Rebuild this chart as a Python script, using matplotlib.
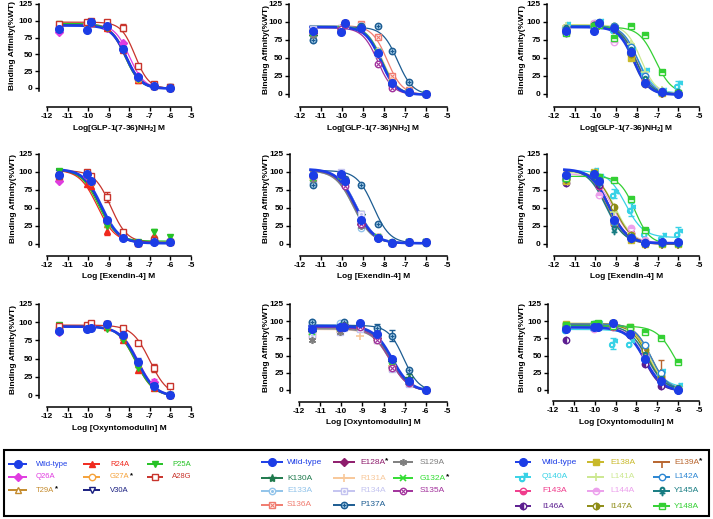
import numpy as np
import matplotlib
matplotlib.use('Agg')
import matplotlib.pyplot as plt
from matplotlib.patches import Rectangle

plt.rcParams['font.family'] = ['Liberation Sans', 'DejaVu Sans']
plt.rcParams['mathtext.fontset'] = 'custom'
plt.rcParams['mathtext.rm'] = 'Liberation Sans'
plt.rcParams['mathtext.bf'] = 'Liberation Sans:bold'
plt.rcParams['axes.unicode_minus'] = False

W, H = 713, 519

# ---------------- data ----------------
X_LOG = [-11.4, -10.05, -9.85, -9.1, -8.3, -7.6, -6.8, -6.0]
X_TICKS = [-12, -11, -10, -9, -8, -7, -6, -5]
Y_TICKS = [0, 25, 50, 75, 100, 125]
Y_LABEL = 'Binding Affinity(%WT)'
X_LABELS = [r'Log[GLP-1(7-36)NH$_\mathbf{2}$] M', 'Log [Exendin-4] M', 'Log [Oxyntomodulin] M']

PEP = ['Wild-type', 'Q26A', 'T29A*', 'R24A', 'G27A*', 'V30A', 'P25A', 'A28G']
ECLN = ['Wild-type', 'K130A', 'E133A', 'S136A', 'E128A*', 'R131A', 'R134A', 'P137A',
        'S129A', 'G132A*', 'S135A']
ECLC = ['Wild-type', 'Q140A', 'F143A', 'I146A', 'E138A', 'L141A', 'L144A', 'I147A',
        'E139A*', 'L142A', 'Y145A', 'Y148A']

# measured binding (%WT) at X_LOG; fit = (logIC50, top, bottom, hill); err = {series: {point index: SEM}}
GLP_PEP_Y = {
    'Wild-type': [88, 87, 98, 92, 58, 16, 3, 0],
    'Q26A': [83, 95, 97, 90, 67, 18, 3, 0],
    'T29A*': [90, 96, 97, 91, 60, 15, 3, 1],
    'R24A': [92, 96, 97, 90, 57, 12, 3, 0],
    'G27A*': [90, 95, 98, 92, 58, 14, 3, 2],
    'V30A': [89, 95, 97, 92, 58, 15, 3, 1],
    'P25A': [95, 96, 97, 90, 56, 14, 3, 0],
    'A28G': [95, 98, 99, 98, 90, 33, 6, 2],
}
GLP_PEP_FIT = {
    'Wild-type': (-8.15, 93, -1, 1.2), 'Q26A': (-8.0, 95, -1, 1.2),
    'T29A*': (-8.15, 95, -1, 1.2), 'R24A': (-8.2, 94, -1, 1.2),
    'G27A*': (-8.15, 95, 0, 1.2), 'V30A': (-8.15, 94, 0, 1.2),
    'P25A': (-8.22, 96, -1, 1.2), 'A28G': (-7.72, 98, -1, 1.3),
}
GLP_PEP_ERR = {'A28G': {4: 5}, 'R24A': {5: 5}}
GLP_ECLN_Y = {
    'Wild-type': [88, 86, 99, 92, 57, 15, 3, 0],
    'K130A': [80, 90, 97, 93, 55, 14, 3, 0],
    'E133A': [75, 88, 96, 92, 60, 15, 3, 0],
    'S136A': [87, 92, 98, 97, 79, 25, 5, 0],
    'E128A*': [85, 92, 97, 92, 55, 12, 3, 0],
    'R131A': [85, 88, 95, 90, 60, 18, 4, 0],
    'R134A': [90, 92, 96, 94, 55, 14, 3, 0],
    'P137A': [75, 88, 97, 95, 95, 60, 16, 0],
    'S129A': [82, 90, 96, 92, 55, 14, 3, 0],
    'G132A*': [85, 90, 96, 92, 58, 15, 3, 0],
    'S135A': [88, 90, 96, 90, 42, 8, 3, 0],
}
GLP_ECLN_FIT = {
    'Wild-type': (-8.15, 93, -1, 1.2), 'K130A': (-8.15, 93, -1, 1.2),
    'E133A': (-8.1, 94, -1, 1.2), 'S136A': (-7.85, 95, -1, 1.2),
    'E128A*': (-8.15, 93, -1, 1.2), 'R131A': (-8.05, 92, -1, 1.2),
    'R134A': (-8.1, 95, -1, 1.2), 'P137A': (-7.35, 93, -1, 1.2),
    'S129A': (-8.1, 94, -1, 1.2), 'G132A*': (-8.1, 94, -1, 1.2),
    'S135A': (-8.3, 92, -1, 1.2),
}
GLP_ECLN_ERR = {'R131A': {1: 6}}
GLP_ECLC_Y = {
    'Wild-type': [88, 87, 98, 92, 58, 15, 3, 0],
    'Q140A': [95, 97, 98, 90, 60, 30, 3, 12],
    'F143A': [90, 97, 97, 92, 58, 20, 3, 2],
    'I146A': [85, 95, 98, 95, 55, 14, 2, 1],
    'E138A': [92, 97, 97, 93, 50, 15, 2, 1],
    'L141A': [95, 96, 97, 94, 70, 30, 5, 2],
    'L144A': [92, 98, 98, 72, 60, 25, 4, 2],
    'I147A': [90, 96, 97, 93, 55, 15, 3, 1],
    'E139A*': [93, 96, 97, 92, 60, 18, 3, 1],
    'L142A': [90, 95, 97, 95, 65, 25, 3, 1],
    'Y145A': [90, 95, 98, 92, 60, 20, 3, 1],
    'Y148A': [85, 95, 96, 78, 95, 82, 30, 2],
}
GLP_ECLC_FIT = {
    'Wild-type': (-8.15, 93, -1, 1.2), 'Q140A': (-7.95, 95, 1, 1.1),
    'F143A': (-8.05, 95, 0, 1.2), 'I146A': (-8.15, 95, -1, 1.2),
    'E138A': (-8.2, 96, -1, 1.2), 'L141A': (-7.8, 96, 0, 1.2),
    'L144A': (-8.0, 95, 0, 1.1), 'I147A': (-8.15, 95, -1, 1.2),
    'E139A*': (-8.05, 95, 0, 1.2), 'L142A': (-7.95, 95, 0, 1.2),
    'Y145A': (-8.05, 94, 0, 1.2), 'Y148A': (-7.1, 93, 0, 1.1),
}
GLP_ECLC_ERR = {'Q140A': {7: 6}}
EX_PEP_Y = {
    'Wild-type': [96, 97, 88, 34, 9, 1, 3, 3],
    'Q26A': [87, 95, 85, 30, 10, 2, 3, 3],
    'T29A*': [95, 97, 86, 28, 12, 2, 5, 5],
    'R24A': [97, 83, 80, 18, 12, 2, 12, 5],
    'G27A*': [96, 97, 86, 30, 12, 2, 5, 4],
    'V30A': [96, 97, 87, 32, 10, 2, 4, 3],
    'P25A': [102, 95, 86, 25, 14, 3, 16, 10],
    'A28G': [95, 100, 95, 65, 17, 2, 5, 3],
}
EX_PEP_FIT = {
    'Wild-type': (-9.35, 104, 1, 1.0), 'Q26A': (-9.4, 103, 1, 1.0),
    'T29A*': (-9.4, 103, 2, 1.0), 'R24A': (-9.55, 103, 2, 1.0),
    'G27A*': (-9.4, 103, 2, 1.0), 'V30A': (-9.4, 103, 1, 1.0),
    'P25A': (-9.5, 104, 4, 1.0), 'A28G': (-8.9, 102, 2, 1.1),
}
EX_PEP_ERR = {'A28G': {3: 7}, 'R24A': {3: 6, 6: 7}, 'P25A': {6: 5}}
EX_ECLN_Y = {
    'Wild-type': [96, 97, 88, 34, 9, 1, 3, 3],
    'K130A': [92, 97, 88, 40, 10, 1, 3, 3],
    'E133A': [85, 95, 85, 22, 10, 1, 3, 3],
    'S136A': [92, 97, 88, 30, 10, 1, 3, 3],
    'E128A*': [94, 96, 86, 28, 9, 1, 3, 3],
    'R131A': [92, 95, 86, 32, 10, 1, 3, 3],
    'R134A': [95, 100, 90, 42, 10, 1, 3, 3],
    'P137A': [82, 95, 90, 82, 28, 3, 3, 2],
    'S129A': [90, 95, 84, 25, 9, 1, 3, 3],
    'G132A*': [92, 95, 86, 30, 10, 1, 3, 3],
    'S135A': [94, 96, 80, 28, 9, 1, 3, 3],
}
EX_ECLN_FIT = {
    'Wild-type': (-9.35, 104, 1, 1.0), 'K130A': (-9.3, 103, 1, 1.0),
    'E133A': (-9.45, 102, 1, 1.0), 'S136A': (-9.4, 103, 1, 1.0),
    'E128A*': (-9.4, 103, 1, 1.0), 'R131A': (-9.4, 102, 1, 1.0),
    'R134A': (-9.3, 104, 1, 1.0), 'P137A': (-8.5, 102, 1, 1.1),
    'S129A': (-9.45, 102, 1, 1.0), 'G132A*': (-9.4, 103, 1, 1.0),
    'S135A': (-9.4, 103, 1, 1.0),
}
EX_ECLN_ERR = {'K130A': {3: 6}}
EX_ECLC_Y = {
    'Wild-type': [96, 97, 88, 34, 9, 1, 3, 3],
    'Q140A': [92, 100, 92, 70, 48, 15, 10, 15],
    'F143A': [90, 97, 80, 30, 15, 3, 2, 2],
    'I146A': [85, 96, 82, 28, 8, 1, 1, 1],
    'E138A': [88, 100, 90, 30, 5, 0, 0, 0],
    'L141A': [95, 98, 90, 45, 15, 3, 2, 2],
    'L144A': [92, 97, 68, 35, 22, 5, 2, 2],
    'I147A': [90, 98, 90, 52, 12, 2, 1, 1],
    'E139A*': [92, 98, 88, 38, 10, 1, 1, 1],
    'L142A': [92, 97, 86, 30, 10, 2, 2, 2],
    'Y145A': [92, 96, 85, 20, 8, 1, 2, 2],
    'Y148A': [92, 97, 93, 89, 63, 20, 2, 2],
}
EX_ECLC_FIT = {
    'Wild-type': (-9.35, 104, 1, 1.0), 'Q140A': (-8.55, 102, 9, 1.0),
    'F143A': (-9.3, 102, 1, 1.0), 'I146A': (-9.45, 104, 0, 1.0),
    'E138A': (-9.4, 103, 0, 1.0), 'L141A': (-9.05, 100, 1, 1.0),
    'L144A': (-9.15, 98, 2, 1.0), 'I147A': (-9.1, 102, 0, 1.0),
    'E139A*': (-9.3, 103, 0, 1.0), 'L142A': (-9.35, 103, 1, 1.0),
    'Y145A': (-9.5, 104, 1, 1.0), 'Y148A': (-8.1, 94, 0, 1.2),
}
EX_ECLC_ERR = {'Q140A': {3: 6, 4: 9, 7: 9}}
OXM_PEP_Y = {
    'Wild-type': [88, 91, 92, 97, 82, 45, 13, 0],
    'Q26A': [87, 92, 95, 96, 80, 45, 18, 0],
    'T29A*': [92, 92, 93, 94, 80, 42, 12, 0],
    'R24A': [95, 92, 93, 94, 75, 35, 10, 0],
    'G27A*': [92, 92, 94, 95, 80, 42, 12, 0],
    'V30A': [90, 92, 93, 95, 80, 42, 12, 0],
    'P25A': [96, 92, 93, 90, 75, 37, 10, 0],
    'A28G': [95, 96, 99, 97, 92, 72, 37, 12],
}
OXM_PEP_FIT = {
    'Wild-type': (-7.6, 94, -2, 1.0), 'Q26A': (-7.55, 94, -2, 1.0),
    'T29A*': (-7.6, 94, -2, 1.0), 'R24A': (-7.7, 95, -2, 1.0),
    'G27A*': (-7.6, 94, -2, 1.0), 'V30A': (-7.6, 94, -2, 1.0),
    'P25A': (-7.7, 95, -2, 1.0), 'A28G': (-7.0, 96, -2, 1.0),
}
OXM_PEP_ERR = {'Wild-type': {3: 4, 5: 6}, 'A28G': {6: 5}, 'Q26A': {6: 4}}
OXM_ECLN_Y = {
    'Wild-type': [88, 91, 92, 97, 82, 45, 13, 0],
    'K130A': [85, 90, 95, 92, 78, 40, 18, 0],
    'E133A': [99, 98, 95, 92, 75, 35, 12, 0],
    'S136A': [80, 88, 93, 90, 72, 32, 10, 0],
    'E128A*': [88, 90, 93, 92, 75, 35, 10, 0],
    'R131A': [88, 85, 90, 78, 72, 35, 10, 0],
    'R134A': [80, 85, 90, 88, 72, 30, 8, 0],
    'P137A': [99, 92, 99, 95, 90, 79, 29, 0],
    'S129A': [72, 85, 90, 92, 72, 32, 10, 0],
    'G132A*': [85, 90, 93, 92, 75, 35, 12, 0],
    'S135A': [88, 90, 93, 92, 72, 32, 10, 0],
}
OXM_ECLN_FIT = {
    'Wild-type': (-7.6, 93, -2, 1.0), 'K130A': (-7.6, 92, -2, 1.0),
    'E133A': (-7.65, 95, -2, 1.0), 'S136A': (-7.7, 90, -2, 1.0),
    'E128A*': (-7.65, 92, -2, 1.0), 'R131A': (-7.65, 88, -2, 1.0),
    'R134A': (-7.7, 89, -2, 1.0), 'P137A': (-7.05, 94, -2, 1.2),
    'S129A': (-7.7, 89, -2, 1.0), 'G132A*': (-7.65, 91, -2, 1.0),
    'S135A': (-7.7, 91, -2, 1.0),
}
OXM_ECLN_ERR = {'P137A': {4: 6, 5: 8}, 'K130A': {6: 5}}
OXM_ECLC_Y = {
    'Wild-type': [88, 91, 92, 97, 82, 45, 13, 0],
    'Q140A': [88, 92, 95, 68, 68, 48, 25, 5],
    'F143A': [90, 92, 95, 92, 85, 52, 18, 2],
    'I146A': [73, 90, 92, 95, 80, 38, 6, 0],
    'E138A': [96, 95, 96, 97, 92, 62, 20, 1],
    'L141A': [92, 95, 95, 95, 88, 55, 25, 2],
    'L144A': [90, 88, 92, 95, 85, 50, 15, 1],
    'I147A': [92, 93, 95, 95, 90, 58, 20, 1],
    'E139A*': [92, 95, 96, 96, 90, 65, 30, 2],
    'L142A': [92, 96, 96, 97, 85, 65, 25, 2],
    'Y145A': [90, 93, 95, 95, 85, 50, 15, 1],
    'Y148A': [95, 96, 97, 93, 92, 84, 75, 40],
}
OXM_ECLC_FIT = {
    'Wild-type': (-7.6, 91, -2, 1.0), 'Q140A': (-7.4, 88, 3, 1.0),
    'F143A': (-7.5, 93, 0, 1.0), 'I146A': (-7.65, 92, -2, 1.1),
    'E138A': (-7.4, 97, 0, 1.1), 'L141A': (-7.4, 96, 0, 1.0),
    'L144A': (-7.5, 92, 0, 1.0), 'I147A': (-7.45, 95, 0, 1.1),
    'E139A*': (-7.3, 96, 0, 1.1), 'L142A': (-7.3, 96, 0, 1.1),
    'Y145A': (-7.5, 94, 0, 1.0), 'Y148A': (-6.15, 93, 0, 1.0),
}
OXM_ECLC_ERR = {'Q140A': {3: 8}, 'E139A*': {6: 14}, 'L141A': {4: 6}}

PANELS = [
    (PEP, GLP_PEP_Y, GLP_PEP_FIT, GLP_PEP_ERR, 0),
    (ECLN, GLP_ECLN_Y, GLP_ECLN_FIT, GLP_ECLN_ERR, 0),
    (ECLC, GLP_ECLC_Y, GLP_ECLC_FIT, GLP_ECLC_ERR, 0),
    (PEP, EX_PEP_Y, EX_PEP_FIT, EX_PEP_ERR, 1),
    (ECLN, EX_ECLN_Y, EX_ECLN_FIT, EX_ECLN_ERR, 1),
    (ECLC, EX_ECLC_Y, EX_ECLC_FIT, EX_ECLC_ERR, 1),
    (PEP, OXM_PEP_Y, OXM_PEP_FIT, OXM_PEP_ERR, 2),
    (ECLN, OXM_ECLN_Y, OXM_ECLN_FIT, OXM_ECLN_ERR, 2),
    (ECLC, OXM_ECLC_Y, OXM_ECLC_FIT, OXM_ECLC_ERR, 2),
]

# ---------------- styles ----------------
STYLE = {
    'Wild-type': dict(c='#1c3de6', m='o', s=1.2),
    'Q26A': dict(c='#e03ce0', m='D', s=0.8),
    'T29A*': dict(c='#c48a2c', m='^', fill='none'),
    'R24A': dict(c='#f02a1e', m='^'),
    'G27A*': dict(c='#f5a23a', m='o', fill='none'),
    'V30A': dict(c='#1a1f80', m='v', fill='none'),
    'P25A': dict(c='#26c226', m='v'),
    'A28G': dict(c='#c8342c', m='s', fill='none'),
    'K130A': dict(c='#1f7a4d', m='*', s=1.3),
    'E133A': dict(c='#92c4ea', m='o', fill='none', ov='.'),
    'S136A': dict(c='#f07c70', m='s', fill='none', ov='x'),
    'E128A*': dict(c='#8e1c6c', m='D', s=0.9),
    'R131A': dict(c='#f8c89a', m='+', s=1.3),
    'R134A': dict(c='#c4c4f0', m='s', fill='none', ov='.'),
    'P137A': dict(c='#1c5c92', m='o', fill='face', fc='#9cc6e4', ov='+'),
    'S129A': dict(c='#7f7f7f', m=(6, 2, 0), s=1.1),
    'G132A*': dict(c='#33dd33', m='x'),
    'S135A': dict(c='#a2329c', m='o', fill='none', ov='x'),
    'Q140A': dict(c='#38d2e6', m='$\u2642$', s=1.3),
    'F143A': dict(c='#f03c8c', m='o', fill='bottom'),
    'I146A': dict(c='#5c1e90', m='o', fill='left'),
    'E138A': dict(c='#c9b92a', m='s'),
    'L141A': dict(c='#cce890', m='+', s=1.3),
    'L144A': dict(c='#eca0ec', m='o', fill='top'),
    'I147A': dict(c='#8e8c16', m='o', fill='right'),
    'E139A*': dict(c='#b8652e', m=3, s=1.0),
    'L142A': dict(c='#2c86d2', m='o', fill='none'),
    'Y145A': dict(c='#177c82', m='$\u2640$', s=1.3),
    'Y148A': dict(c='#34d034', m='s', fill='top'),
}


def draw_marker(ax, x, y, name, ms, z):
    st = STYLE[name]
    c = st['c']
    fill = st.get('fill', 'full')
    kw = dict(linestyle='none', marker=st['m'], markersize=ms * st.get('s', 1.0),
              color=c, markeredgecolor=c, zorder=z, clip_on=False, markeredgewidth=1.0)
    if fill == 'none':
        kw.update(markerfacecolor='white')
    elif fill in ('left', 'right', 'top', 'bottom'):
        kw.update(fillstyle=fill, markerfacecolor=c, markerfacecoloralt='white')
    elif fill == 'face':
        kw.update(markerfacecolor=st['fc'])
    else:
        kw.update(markerfacecolor=c)
    if st['m'] in ('+', 'x', 3, (6, 2, 0)):
        kw.update(markeredgewidth=1.2)
    ax.plot(x, y, **kw)
    if 'ov' in st:
        ax.plot(x, y, linestyle='none', marker=st['ov'], markersize=ms * 0.6, color=c,
                markeredgewidth=0.8, zorder=z + 0.01, clip_on=False)


# panel geometry in pixels: y-spine x, x(-12), x(-5), y(125), y(0), x-axis y, ylabel x
GEOM = [
    (39, 47, 191, 4, 88, 107, 13),
    (289, 300, 447, 4, 94, 107, 266),
    (547, 554, 699, 4, 94, 107, 522),
    (39, 47, 191, 154, 244, 256, 14),
    (290, 300, 447, 154, 244, 256, 266),
    (547, 554, 699, 154, 244, 256, 522),
    (39, 47, 191, 304, 395, 407, 14),
    (290, 299, 447, 304, 390, 402, 266),
    (548, 553, 699, 304, 390, 401, 522),
]

fig = plt.figure(figsize=(W / 100, H / 100), dpi=100)

xfit = np.linspace(-11.5, -6.0, 220)
for (names, ydata, fits, errs, row), (ysp, x12, x5, y125, y0, xax, ylx) in zip(PANELS, GEOM):
    xs = (x5 - x12) / 7.0
    ys = (y0 - y125) / 125.0
    ax = fig.add_axes([ysp / W, 1 - xax / H, (x5 - ysp) / W, (xax - y125) / H])
    ax.set_xlim(-12 - (x12 - ysp) / xs, -5)
    ax.set_ylim(-(xax - y0) / ys, 125)
    ax.patch.set_visible(False)
    for s in ('top', 'right'):
        ax.spines[s].set_visible(False)
    ax.spines['left'].set_bounds(-4, 125)
    ax.spines['bottom'].set_bounds(-12, -5)
    for s in ('left', 'bottom'):
        ax.spines[s].set_linewidth(1.1)
    ax.set_xticks(X_TICKS)
    ax.set_yticks(Y_TICKS)
    ax.tick_params(length=3, width=1.0, labelsize=6.0, pad=1.5)
    for lab in ax.get_xticklabels() + ax.get_yticklabels():
        lab.set_fontweight('bold')
    order = [n for n in names if n != 'Wild-type'] + ['Wild-type']
    for n in order:
        lic, top, bot, hill = fits[n]
        yc = bot + (top - bot) / (1 + 10 ** ((xfit - lic) * hill))
        wt = n == 'Wild-type'
        ax.plot(xfit, yc, color=STYLE[n]['c'], lw=1.9 if wt else 0.9, zorder=3 if wt else 2, clip_on=False)
    for n, e in errs.items():
        idx = sorted(e)
        ax.errorbar([X_LOG[i] for i in idx], [ydata[n][i] for i in idx], yerr=[e[i] for i in idx],
                    fmt='none', ecolor=STYLE[n]['c'], elinewidth=1.0, capsize=2.2, capthick=1.0, zorder=3.5)
    for i, n in enumerate(order):
        wt = n == 'Wild-type'
        draw_marker(ax, X_LOG, ydata[n], n, 4.6, 6 if wt else 4 + i * 0.01)
    fig.text(((x12 + x5) / 2) / W, 1 - (xax + 21) / H, X_LABELS[row], ha='center', va='center',
             fontsize=6, fontweight='bold')
    fig.text(ylx / W, 1 - ((y125 + y0) / 2) / H, Y_LABEL, rotation=90, ha='center', va='center',
             fontsize=6, fontweight='bold')

# ---------------- legend ----------------
ovl = fig.add_axes([0, 0, 1, 1])
ovl.set_xlim(0, W)
ovl.set_ylim(H, 0)
ovl.axis('off')
ovl.add_patch(Rectangle((4, 450), 705, 66, fill=False, lw=1.5, edgecolor='black'))

LEG = [
    ([(8, 27, 36), (83, 100, 110), (147, 163, 172)], [464, 477, 490],
     [['Wild-type', 'Q26A', 'T29A*'], ['R24A', 'G27A*', 'V30A'], ['P25A', 'A28G']], 5.5),
    ([(261, 283, 287), (333, 355, 360), (393, 413, 420)], [462, 478, 491, 505],
     [['Wild-type', 'K130A', 'E133A', 'S136A'], ['E128A*', 'R131A', 'R134A', 'P137A'],
      ['S129A', 'G132A*', 'S135A']], 6.0),
    ([(515, 531, 542), (587, 604, 610), (653, 670, 674)], [462, 477, 491, 506],
     [['Wild-type', 'Q140A', 'F143A', 'I146A'], ['E138A', 'L141A', 'L144A', 'I147A'],
      ['E139A*', 'L142A', 'Y145A', 'Y148A']], 6.0),
]
renderer = fig.canvas.get_renderer()
for cols, rows, grid, fs in LEG:
    for (lx0, lx1, tx), colnames in zip(cols, grid):
        for ry, n in zip(rows, colnames):
            c = STYLE[n]['c']
            ovl.plot([lx0, lx1], [ry, ry], color=c, lw=1.4, zorder=3, solid_capstyle='butt')
            draw_marker(ovl, [(lx0 + lx1) / 2], [ry], n, 4.6, 4)
            label = n.rstrip('*')
            t = ovl.text(tx, ry, label, color=c, fontsize=fs, ha='left', va='center')
            if n.endswith('*'):
                bb = t.get_window_extent(renderer)
                ovl.text(bb.x1 + 0.3, ry - 1.5, '*', color='black', fontsize=fs, fontweight='bold',
                         ha='left', va='center')

fig.savefig('out.png', dpi=100)
